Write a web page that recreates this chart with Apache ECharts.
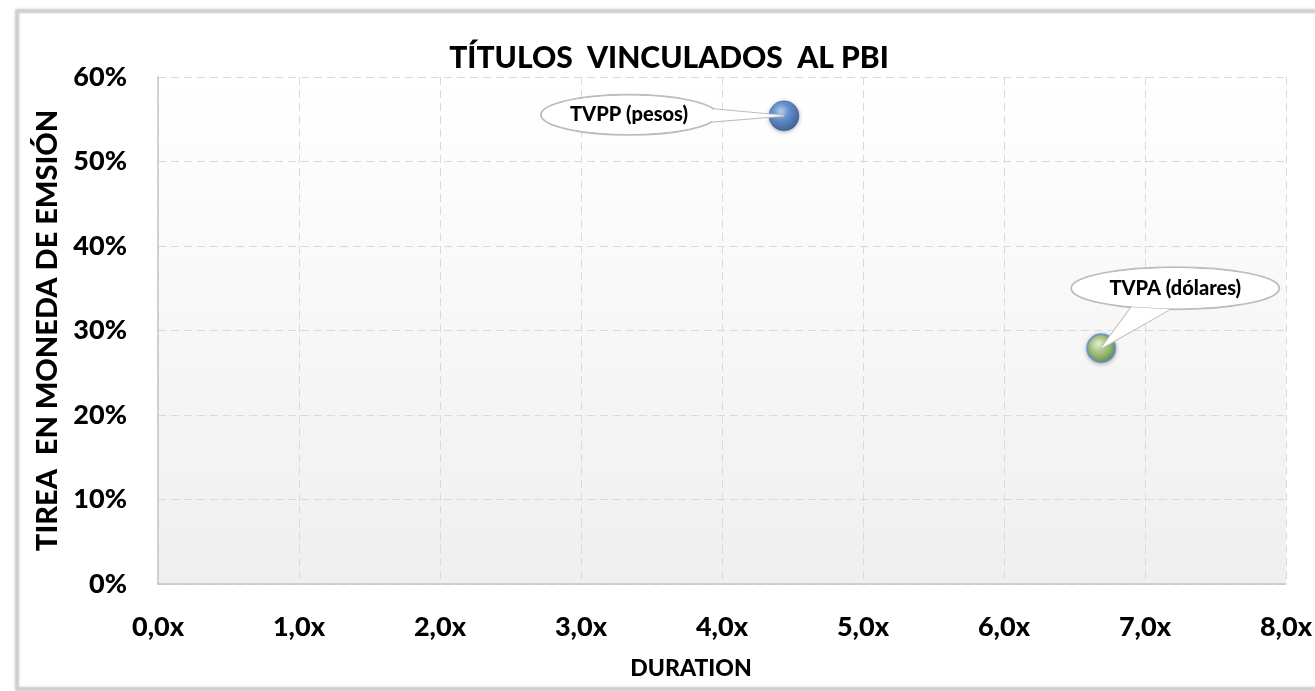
<!DOCTYPE html>
<html>
<head>
<meta charset="utf-8">
<script src="https://cdn.jsdelivr.net/npm/echarts@6/dist/echarts.min.js"></script>
<style>
html,body{margin:0;padding:0;background:#fff;}
#c{width:1315px;height:691px;}
</style>
</head>
<body>
<div id="c"></div>
<script>
// ---- data ----
const seriesNames = ['TVPP (pesos)', 'TVPA (dólares)'];
const durationValues = [4.44, 6.69];
const tireaValues = [0.554, 0.279];
const chartTitle = 'TÍTULOS  VINCULADOS  AL PBI';
const xAxisTitle = 'DURATION';
const yAxisTitle = 'TIREA  EN MONEDA DE EMSIÓN';

// ---- styling ----
const FONT = 'Lato, "Open Sans", sans-serif';
const W = 900;
const markerStyles = [
  {
    color: {type:'radial', x:0.4, y:0.35, r:0.75, colorStops:[
      {offset:0, color:'#b8d4f5'},{offset:0.35, color:'#4f88d4'},{offset:1, color:'#1b3c7c'}]},
    borderColor:'#2a4f8f', borderWidth:0.5,
    shadowBlur:4, shadowColor:'rgba(0,0,0,0.35)', shadowOffsetY:1
  },
  {
    color: {type:'radial', x:0.4, y:0.35, r:0.75, colorStops:[
      {offset:0, color:'#eef8d6'},{offset:0.4, color:'#9fc86a'},{offset:1, color:'#4a7530'}]},
    borderColor:'#5e8fc8', borderWidth:2,
    shadowBlur:4, shadowColor:'rgba(0,0,0,0.3)', shadowOffsetY:1
  }
];
const calloutStyles = [
  {dx:-155, dy:-1, rx:88, ry:20, spread:18},
  {dx:74, dy:-60, rx:104, ry:21, spread:11}
];

const chart = echarts.init(document.getElementById('c'), null, {renderer:'canvas'});

const fmtX = v => v.toFixed(1).replace('.', ',') + 'x';
const fmtY = v => Math.round(v * 100) + '%';

const series = seriesNames.map((n, i) => ({
  name: n,
  type: 'scatter',
  symbol: 'circle',
  symbolSize: i === 0 ? 30 : 28,
  data: [[durationValues[i], tireaValues[i]]],
  itemStyle: markerStyles[i],
  z: 5
}));

const option = {
  animation: false,
  backgroundColor: '#fff',
  title: {
    text: chartTitle,
    left: 664, top: 38,
    textAlign: 'center',
    textStyle: {fontFamily: FONT, fontWeight: W, fontSize: 30, color: '#000'}
  },
  grid: {
    left: 158, right: 29, top: 77, bottom: 107,
    show: true, borderWidth: 0,
    backgroundColor: {type:'linear', x:0, y:0, x2:0, y2:1, colorStops:[
      {offset:0, color:'#ffffff'},{offset:1, color:'#efefef'}]}
  },
  xAxis: {
    type: 'value', min: 0, max: 8, interval: 1,
    axisLine: {show: true, lineStyle: {color: '#c4c4c4', width: 1.5}},
    axisTick: {show: false},
    axisLabel: {formatter: fmtX, margin: 30, fontFamily: FONT, fontWeight: W, fontSize: 27, color: '#000'},
    splitLine: {show: true, lineStyle: {color: '#d9d9d9', type: [8, 5], width: 1}}
  },
  yAxis: {
    type: 'value', min: 0, max: 0.6, interval: 0.1,
    name: yAxisTitle, nameLocation: 'middle', nameGap: 95, nameRotate: 90,
    nameTextStyle: {fontFamily: FONT, fontWeight: W, fontSize: 29, color: '#000'},
    axisLine: {show: true, lineStyle: {color: '#c4c4c4', width: 1.5}},
    axisTick: {show: false},
    axisLabel: {formatter: fmtY, margin: 31, fontFamily: FONT, fontWeight: W, fontSize: 27, color: '#000'},
    splitLine: {show: true, lineStyle: {color: '#d9d9d9', type: [8, 5], width: 1}}
  },
  series: series
};
chart.setOption(option);

// ---- callouts, frame, x-axis title ----
function buildGraphics() {
  const els = [];
  els.push({
    type: 'rect', silent: true, z: 100,
    shape: {x: 17, y: 11, width: 1320, height: 678},
    style: {fill: 'none', stroke: '#cfcfcf', lineWidth: 3, shadowBlur: 3, shadowColor: 'rgba(0,0,0,0.25)'}
  });
  els.push({
    type: 'text', silent: true, z: 50,
    x: 691, y: 669,
    style: {text: xAxisTitle, fontFamily: FONT, fontWeight: W, fontSize: 23, fill: '#000',
            align: 'center', verticalAlign: 'middle'}
  });
  seriesNames.forEach((n, i) => {
    const p = chart.convertToPixel({gridIndex: 0}, [durationValues[i], tireaValues[i]]);
    const cs = calloutStyles[i];
    const cx = p[0] + cs.dx, cy = p[1] + cs.dy;
    const ang = Math.atan2((p[1] - cy) / cs.ry, (p[0] - cx) / cs.rx);
    const sp = cs.spread * Math.PI / 180;
    const b1 = [cx + cs.rx * Math.cos(ang - sp), cy + cs.ry * Math.sin(ang - sp)];
    const b2 = [cx + cs.rx * Math.cos(ang + sp), cy + cs.ry * Math.sin(ang + sp)];
    const tip = [p[0], p[1]];
    const strokeCol = '#bdbdbd';
    els.push({type:'ellipse', silent:true, z:20, shape:{cx:cx, cy:cy, rx:cs.rx, ry:cs.ry},
      style:{fill:'#fff', stroke:strokeCol, lineWidth:2}});
    els.push({type:'polygon', silent:true, z:20, shape:{points:[b1, tip, b2]},
      style:{fill:'#fff', stroke:strokeCol, lineWidth:2}});
    els.push({type:'ellipse', silent:true, z:21, shape:{cx:cx, cy:cy, rx:cs.rx - 1, ry:cs.ry - 1},
      style:{fill:'#fff'}});
    els.push({type:'polygon', silent:true, z:21, shape:{points:[b1, tip, b2]},
      style:{fill:'#fff'}});
    els.push({type:'text', silent:true, z:22, x:cx, y:cy,
      style:{text:n, fontFamily:FONT, fontWeight:W, fontSize:20, fill:'#000',
             align:'center', verticalAlign:'middle'}});
  });
  chart.setOption({graphic: {elements: els}});
}
buildGraphics();
</script>
</body>
</html>
